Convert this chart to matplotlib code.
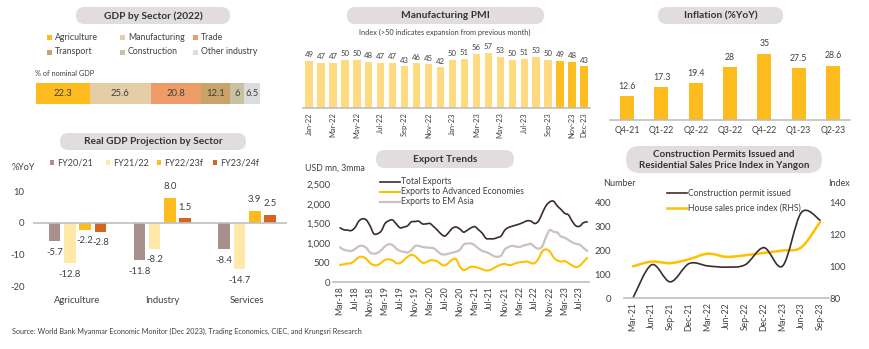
import numpy as np
import pandas as pd
import matplotlib
matplotlib.use('Agg')
import matplotlib.pyplot as plt
from matplotlib.patches import FancyBboxPatch, Rectangle, PathPatch
from matplotlib.path import Path

W, H = 870, 349
TXT = '#404040'
GRID = '#BFBFBF'
plt.rcParams['font.family'] = ['Lato', 'DejaVu Sans']
plt.rcParams['text.color'] = TXT
plt.rcParams['xtick.color'] = TXT
plt.rcParams['ytick.color'] = TXT

# GDP by sector, % of nominal GDP (2022)
sectors = ['Agriculture', 'Manufacturing', 'Trade', 'Transport', 'Construction', 'Other industry']
sector_share = [22.3, 25.6, 20.8, 12.1, 6, 6.5]
sector_colors = ['#FDBB1E', '#E4CDA7', '#EE9D68', '#C8A46A', '#C8C2A2', '#DCDCDC']

# Manufacturing PMI
pmi_months = ['Jan-22', 'Feb-22', 'Mar-22', 'Apr-22', 'May-22', 'Jun-22', 'Jul-22', 'Aug-22',
              'Sep-22', 'Oct-22', 'Nov-22', 'Dec-22', 'Jan-23', 'Feb-23', 'Mar-23', 'Apr-23',
              'May-23', 'Jun-23', 'Jul-23', 'Aug-23', 'Sep-23', 'Oct-23', 'Nov-23', 'Dec-23']
pmi_values = [49, 47, 47, 50, 50, 48, 47, 47, 43, 46, 45, 42,
              50, 51, 56, 57, 53, 50, 51, 53, 50, 49, 48, 43]
pmi_tick_idx = [0, 2, 4, 6, 8, 10, 12, 14, 16, 18, 20, 22, 23]

# Inflation %YoY
infl_quarters = ['Q4-21', 'Q1-22', 'Q2-22', 'Q3-22', 'Q4-22', 'Q1-23', 'Q2-23']
infl_values = [12.6, 17.3, 19.4, 28, 35, 27.5, 28.6]

# Real GDP projection by sector, %YoY
proj_sectors = ['Agriculture', 'Industry', 'Services']
proj_years = ['FY20/21', 'FY21/22', 'FY22/23f', 'FY23/24f']
fy20_21 = [-5.7, -11.8, -8.4]
fy21_22 = [-12.8, -8.2, -14.7]
fy22_23f = [-2.2, 8.0, 3.9]
fy23_24f = [-2.8, 1.5, 2.5]
proj_colors = ['#A8918C', '#FFE8A8', '#FDBB1E', '#D5641E']

# Export trends, USD mn, 3mma, Mar-18 .. Sep-23
export_months = pd.date_range('2018-03-01', periods=67, freq='MS').strftime('%b-%y').tolist()
total_exports = [1390, 1340, 1330, 1320, 1400, 1560, 1620, 1590, 1440, 1240, 1240, 1310,
                 1500, 1570, 1590, 1490, 1390, 1410, 1440, 1540, 1550, 1560, 1490, 1490,
                 1500, 1420, 1330, 1230, 1180, 1270, 1380, 1410, 1360, 1280, 1330, 1390,
                 1420, 1340, 1250, 1120, 1110, 1110, 1140, 1180, 1330, 1400, 1430, 1460,
                 1490, 1530, 1570, 1560, 1500, 1560, 1760, 1950, 2050, 2070, 1950, 1860,
                 1760, 1720, 1560, 1440, 1430, 1520, 1540]
exports_adv = [440, 460, 480, 490, 560, 640, 650, 600, 490, 440, 440, 500,
               570, 585, 560, 490, 490, 560, 650, 700, 670, 580, 500, 510,
               560, 560, 530, 460, 430, 500, 580, 590, 400, 310, 350, 400,
               390, 370, 330, 300, 310, 360, 410, 450, 470, 440, 450, 490,
               510, 520, 530, 490, 490, 600, 790, 840, 790, 640, 560, 530,
               540, 490, 430, 390, 420, 520, 620]
exports_em_asia = [890, 830, 810, 800, 850, 920, 930, 880, 760, 730, 750, 820,
                   920, 970, 950, 860, 800, 780, 760, 820, 920, 930, 900, 890,
                   880, 870, 790, 720, 710, 730, 760, 780, 830, 960, 990, 990,
                   940, 860, 800, 770, 730, 670, 650, 680, 840, 900, 930, 910,
                   900, 940, 960, 980, 900, 860, 920, 1150, 1330, 1290, 1270, 1170,
                   1140, 1080, 1020, 980, 960, 880, 800]
export_tick_idx = list(range(0, 67, 4))

# Construction permits (number) and house sales price index (RHS), Yangon
permit_quarters = ['Mar-21', 'Jun-21', 'Sep-21', 'Dec-21', 'Mar-22', 'Jun-22',
                   'Sep-22', 'Dec-22', 'Mar-23', 'Jun-23', 'Sep-23']
permits = [0, 140, 68, 145, 135, 130, 140, 212, 135, 360, 328]
house_index = [100, 103, 102, 104.5, 108, 106, 107, 108.5, 110, 112, 128]


def box(l, t, r, b):
    return [l / W, 1 - b / H, (r - l) / W, (b - t) / H]


def smooth(ax, x, y, **kw):
    # Catmull-Rom curve through the points, drawn as cubic Bezier segments
    x = np.asarray(x, float)
    y = np.asarray(y, float)
    px = np.concatenate([[x[0]], x, [x[-1]]])
    py = np.concatenate([[y[0]], y, [y[-1]]])
    verts = [(x[0], y[0])]
    codes = [Path.MOVETO]
    for k in range(1, len(x)):
        p0, p1, p2, p3 = k - 1, k, k + 1, k + 2
        c1 = (px[p1] + (px[p2] - px[p0]) / 6, py[p1] + (py[p2] - py[p0]) / 6)
        c2 = (px[p2] - (px[p3] - px[p1]) / 6, py[p2] - (py[p3] - py[p1]) / 6)
        verts += [c1, c2, (px[p2], py[p2])]
        codes += [Path.CURVE4] * 3
    ax.add_patch(PathPatch(Path(verts, codes), fill=False, capstyle='round', **kw))


def clean(ax, bottom=True):
    for s in ax.spines.values():
        s.set_visible(False)
    if bottom:
        ax.spines['bottom'].set_visible(True)
        ax.spines['bottom'].set_color(GRID)
        ax.spines['bottom'].set_linewidth(1.2)
    ax.tick_params(length=0)
    ax.set_facecolor('none')


fig = plt.figure(figsize=(8.7, 3.49), dpi=100)

# overlay in pixel units for titles, legends and notes
ov = fig.add_axes([0, 0, 1, 1])
ov.set_xlim(0, W)
ov.set_ylim(H, 0)
ov.axis('off')
ov.set_zorder(10)
ov.patch.set_alpha(0)


def pill(x0, x1, y0, y1, text, fs=7.3):
    h = y1 - y0
    ov.add_patch(FancyBboxPatch((x0, y0), x1 - x0, h,
                                boxstyle='round,pad=0,rounding_size=%.1f' % (h / 2),
                                fc='#E2DDDD', ec='none'))
    ov.text((x0 + x1) / 2, (y0 + y1) / 2 + 0.5, text, ha='center', va='center',
            fontsize=fs, fontweight='bold', color='#333333', linespacing=1.15)


pill(76, 230, 7, 24, 'GDP by Sector (2022)')
pill(347, 544, 7, 24, 'Manufacturing PMI')
pill(658, 783, 7, 24, 'Inflation (%YoY)')
pill(60, 246, 133, 150, 'Real GDP Projection by Sector')
pill(376, 514, 150, 168, 'Export Trends')
pill(626, 822, 146, 173, 'Construction Permits Issued and\nResidential Sales Price Index in Yangon', fs=7)

# --- GDP by sector ---
leg_pos = [(47, 37), (120, 37), (193, 37), (47, 52), (120, 52), (193, 52)]
for (lx, ly), name, c in zip(leg_pos, sectors, sector_colors):
    ov.add_patch(Rectangle((lx, ly - 2.5), 5, 5, fc=c, ec='none'))
    ov.text(lx + 8, ly, name, va='center', fontsize=6.3)
ov.text(35, 74, '% of nominal GDP', va='center', fontsize=5.3)

ax1 = fig.add_axes(box(36, 83, 260, 104))
left = np.concatenate([[0], np.cumsum(sector_share)[:-1]])
ax1.barh(0, sector_share, left=left, color=sector_colors, height=1.0)
for l, v in zip(left, sector_share):
    ax1.text(l + v / 2, 0, f'{v:g}', ha='center', va='center', fontsize=6.8, color=TXT)
ax1.set_xlim(0, sum(sector_share))
ax1.set_ylim(-0.5, 0.5)
ax1.axis('off')

# --- Manufacturing PMI ---
ov.text(445, 32, 'Index (>50 indicates expansion from previous month)', ha='center',
        va='center', fontsize=5.3)
ax2 = fig.add_axes(box(303, 48, 590, 108))
pmi_colors = ['#FFDA80'] * 21 + ['#FDBE22'] * 3
xp = np.arange(len(pmi_values))
ax2.bar(xp, pmi_values, width=0.62, color=pmi_colors)
for x, v in zip(xp, pmi_values):
    ax2.annotate(str(v), (x, v), xytext=(0, 2), textcoords='offset points',
                 ha='center', va='bottom', fontsize=5.6, color=TXT)
ax2.set_xlim(-0.5, 23.5)
ax2.set_ylim(0, 62)
clean(ax2)
ax2.set_yticks([])
ax2.set_xticks(pmi_tick_idx)
ax2.set_xticklabels([pmi_months[i] for i in pmi_tick_idx], rotation=90, fontsize=5.4)
ax2.tick_params(axis='x', pad=3)

# --- Inflation ---
ax3 = fig.add_axes(box(610, 40, 850, 120))
xi = np.arange(len(infl_values))
ax3.bar(xi, infl_values, width=0.41, color='#FDBB1E')
for x, v in zip(xi, infl_values):
    ax3.annotate(f'{v:g}', (x, v), xytext=(0, 4), textcoords='offset points',
                 ha='center', va='bottom', fontsize=6.3, color=TXT)
ax3.set_xlim(-0.5, 6.5)
ax3.set_ylim(0, 42.4)
clean(ax3)
ax3.set_yticks([])
ax3.set_xticks(xi)
ax3.set_xticklabels(infl_quarters, fontsize=6.3)
ax3.tick_params(axis='x', pad=4)

# --- Real GDP projection ---
ov.text(12, 167, '%YoY', va='center', fontsize=6.5)
for lx, name, c in zip([50, 106, 157, 213], proj_years, proj_colors):
    ov.add_patch(Rectangle((lx, 160), 4.5, 5, fc=c, ec='none'))
    ov.text(lx + 7, 162.5, name, va='center', fontsize=6.5)

ax4 = fig.add_axes(box(33, 175, 287, 292))
xg = np.arange(len(proj_sectors))
offs = [-0.27, -0.09, 0.09, 0.27]
for off, vals, c in zip(offs, [fy20_21, fy21_22, fy22_23f, fy23_24f], proj_colors):
    ax4.bar(xg + off, vals, width=0.136, color=c)
    for x, v in zip(xg + off, vals):
        ax4.annotate(f'{v:.1f}', (x, v), xytext=(0, 8 if v > 0 else -8),
                     textcoords='offset points', ha='center', va='center',
                     fontsize=6.8, color=TXT)
ax4.axhline(0, color=GRID, lw=1.2)
ax4.set_xlim(-0.525, 2.47)
ax4.set_ylim(-21.9, 15.2)
clean(ax4, bottom=False)
ax4.set_yticks([-20, -10, 0, 10])
ax4.set_yticklabels(['-20', '-10', '0', '10'], fontsize=6.8)
ax4.tick_params(axis='y', pad=6)
ax4.set_xticks(xg)
ax4.set_xticklabels(proj_sectors, fontsize=6.8)
ax4.tick_params(axis='x', pad=3)

# --- Export trends ---
ov.text(305, 168, 'USD mn, 3mma', va='center', fontsize=6.3)
ax5 = fig.add_axes(box(333, 175, 589, 282.3))
xe = np.arange(len(total_exports))
smooth(ax5, xe, exports_em_asia, color='#CCC0C0', lw=1.6)
smooth(ax5, xe, exports_adv, color='#FFC000', lw=1.5)
smooth(ax5, xe, total_exports, color='#3A2C2C', lw=1.2)
ax5.set_xlim(-1.9, 66.5)
ax5.set_ylim(0, (282.3 - 175) * 2500 / 98)
clean(ax5)
ax5.set_yticks([0, 500, 1000, 1500, 2000, 2500])
ax5.set_yticklabels([f'{v:,}' for v in [0, 500, 1000, 1500, 2000, 2500]], fontsize=6.8)
ax5.tick_params(axis='y', pad=2)
ax5.set_xticks(export_tick_idx)
ax5.set_xticklabels([export_months[i] for i in export_tick_idx], rotation=90, fontsize=6.2)
ax5.tick_params(axis='x', pad=3)

for ly, name, c, lw in [(182, 'Total Exports', '#3A2C2C', 1.2),
                        (192, 'Exports to Advanced Economies', '#FFC000', 1.5),
                        (202, 'Exports to EM Asia', '#CCC0C0', 1.6)]:
    ov.plot([380, 400], [ly, ly], color=c, lw=lw)
    ov.text(401, ly, name, va='center', fontsize=6.2)

# --- Construction permits and house price index ---
ov.text(603, 183, 'Number', va='center', fontsize=6.5)
ov.text(828, 183, 'Index', va='center', fontsize=6.5)
top_px, base_px = 188, 298
ax6 = fig.add_axes(box(623.6, top_px, 829.4, base_px))
xq = np.arange(len(permits))
ax6.set_xlim(-0.5, 10.5)
ax6.set_ylim(0, (base_px - top_px) / 0.2375)
clean(ax6)
ax6.set_yticks([0, 100, 200, 300, 400])
ax6.set_yticklabels(['0', '100', '200', '300', '400'], fontsize=6.8)
ax6.tick_params(axis='y', pad=9)
ax6.set_xticks(xq)
ax6.set_xticklabels(permit_quarters, rotation=90, fontsize=6.2)
ax6.tick_params(axis='x', pad=3)

ax6b = ax6.twinx()
ax6b.set_ylim(80, 80 + (base_px - top_px) / (95 / 60))
clean(ax6b, bottom=False)
ax6b.set_yticks([80, 100, 120, 140])
ax6b.set_yticklabels(['80', '100', '120', '140'], fontsize=6.8)
ax6b.tick_params(axis='y', pad=0)
smooth(ax6b, xq, house_index, color='#FFC000', lw=1.8)
smooth(ax6, xq, permits, color='#3A2C2C', lw=1.2)
ax6.set_zorder(ax6b.get_zorder() + 1)

for ly, name, c, lw in [(193, 'Construction permit issued', '#3A2C2C', 1.2),
                        (208, 'House sales price index (RHS)', '#FFC000', 1.8)]:
    ov.plot([667, 687], [ly, ly], color=c, lw=lw)
    ov.text(688, ly, name, va='center', fontsize=6.2)

ov.text(12, 331, 'Source: World Bank Myanmar Economic Monitor (Dec 2023), Trading Economics, '
        'CIEC, and Krungsri Research', va='center', fontsize=5.2)

fig.savefig('out.png', dpi=100, facecolor='white')
